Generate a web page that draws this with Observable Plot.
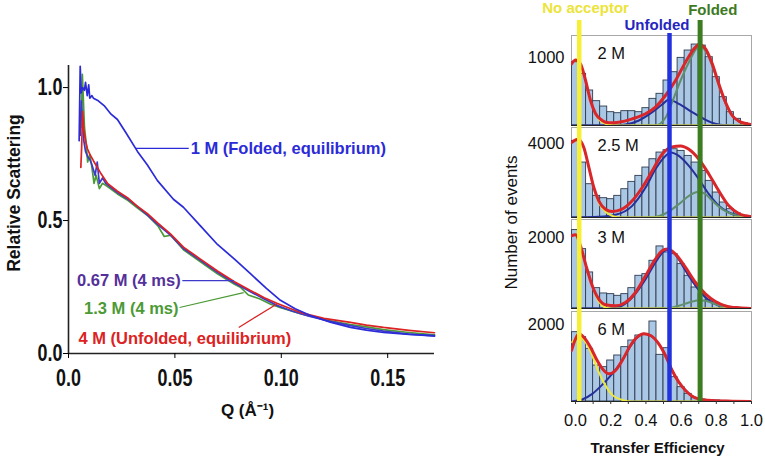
<!DOCTYPE html>
<html><head><meta charset="utf-8">
<script src="https://cdn.jsdelivr.net/npm/d3@7"></script>
<script src="https://cdn.jsdelivr.net/npm/@observablehq/plot@0.6"></script>
<style>
html,body{margin:0;padding:0;background:#fff;}
#chart{position:relative;width:765px;height:461px;overflow:hidden;}
#chart svg{position:absolute;left:0;top:0;}
</style></head><body><div id="chart"></div>
<script>
// ---------- Left chart data: [Q (1/Å), relative scattering] ----------
const curve1MFolded = [[0.0050,0.80],[0.0055,1.08],[0.0060,0.98],[0.0066,1.00],[0.0075,0.99],[0.0080,1.02],[0.0088,0.97],[0.0095,1.01],[0.0100,0.96],[0.0110,0.97],[0.0117,0.96],[0.0140,0.95],[0.0170,0.93],[0.0200,0.90],[0.0230,0.88],[0.0270,0.83],[0.0324,0.76],[0.0370,0.71],[0.0418,0.65],[0.0493,0.58],[0.0540,0.55],[0.0620,0.48],[0.0700,0.41],[0.0780,0.355],[0.0855,0.30],[0.0930,0.245],[0.0996,0.20],[0.1065,0.168],[0.1137,0.143],[0.1230,0.118],[0.1325,0.098],[0.1400,0.088],[0.1480,0.079],[0.1600,0.072],[0.1720,0.067]];
const curve067M4ms = [[0.0055,0.82],[0.0060,0.95],[0.0066,0.88],[0.0072,0.80],[0.0080,0.76],[0.0090,0.74],[0.0100,0.73],[0.0110,0.71],[0.0125,0.67],[0.0135,0.72],[0.0145,0.64],[0.0160,0.66],[0.0175,0.64],[0.0230,0.605],[0.0280,0.58],[0.0320,0.555],[0.0371,0.52],[0.0420,0.485],[0.0479,0.445],[0.0540,0.395],[0.0620,0.35],[0.0700,0.305],[0.0780,0.265],[0.0855,0.232],[0.0920,0.205],[0.0982,0.180],[0.1050,0.160],[0.1130,0.140],[0.1225,0.122],[0.1325,0.105],[0.1400,0.094],[0.1480,0.084],[0.1600,0.073],[0.1720,0.065]];
const curve13M4ms = [[0.0060,0.85],[0.0065,1.05],[0.0070,0.95],[0.0075,0.85],[0.0082,0.80],[0.0090,0.72],[0.0100,0.75],[0.0110,0.70],[0.0120,0.64],[0.0130,0.67],[0.0145,0.62],[0.0160,0.64],[0.0180,0.63],[0.0230,0.60],[0.0280,0.575],[0.0320,0.55],[0.0370,0.52],[0.0420,0.48],[0.0450,0.44],[0.0480,0.445],[0.0540,0.39],[0.0620,0.345],[0.0700,0.30],[0.0780,0.26],[0.0810,0.248],[0.0845,0.22],[0.0900,0.205],[0.0950,0.185],[0.0997,0.172],[0.1090,0.150],[0.1200,0.128],[0.1325,0.109],[0.1400,0.100],[0.1480,0.090],[0.1600,0.079],[0.1720,0.070]];
const curve4MUnfolded = [[0.0058,0.70],[0.0062,0.78],[0.0066,0.91],[0.0072,0.84],[0.0080,0.80],[0.0089,0.77],[0.0100,0.75],[0.0117,0.725],[0.0150,0.68],[0.0183,0.64],[0.0230,0.61],[0.0277,0.586],[0.0320,0.556],[0.0371,0.526],[0.0420,0.49],[0.0479,0.45],[0.0540,0.40],[0.0620,0.355],[0.0700,0.31],[0.0780,0.27],[0.0855,0.237],[0.0920,0.21],[0.0982,0.188],[0.1090,0.154],[0.1200,0.132],[0.1325,0.117],[0.1400,0.107],[0.1480,0.098],[0.1600,0.087],[0.1720,0.078]];
const qTicks = [0, 0.05, 0.10, 0.15];
const qTickLabels = ["0.0", "0.05", "0.10", "0.15"];
const sTicks = [0, 0.5, 1.0];
const sTickLabels = ["0.0", "0.5", "1.0"];
const curveLabels = ["1 M (Folded, equilibrium)", "0.67 M (4 ms)", "1.3 M (4 ms)", "4 M (Unfolded, equilibrium)"];
// label anchor points and leader lines, in data units
const labelQ = [0.0574, 0.0527, 0.0517, 0.0047];
const labelS = [0.771, 0.274, 0.169, 0.056];
const leaderQ1 = [0.0315, 0.0535, 0.0522, 0.0800];
const leaderS1 = [0.771, 0.274, 0.173, 0.098];
const leaderQ2 = [0.0565, 0.0776, 0.0823, 0.0983];
const leaderS2 = [0.771, 0.274, 0.229, 0.188];

// ---------- Right chart data: transfer-efficiency histograms ----------
const binCenters = [0,0.04,0.08,0.12,0.16,0.20,0.24,0.28,0.32,0.36,0.40,0.44,0.48,0.52,0.56,0.60,0.64,0.68,0.72,0.76,0.80,0.84,0.88,0.92,0.96];
const counts2M  = [931,760,515,358,279,196,181,211,211,196,255,392,466,662,784,995,1103,1191,1176,1005,711,417,196,98,34];
const counts25M = [4140,2970,1800,1170,1044,990,1170,1530,1926,2250,2700,3150,3510,3636,3690,3600,3330,2970,2520,1980,1350,810,450,216,90];
const counts3M  = [2228,1687,1024,578,427,408,360,408,578,929,976,1356,1763,1593,1545,1261,929,597,408,237,123,76,38,19,9];
const counts6M  = [1801,1671,1368,935,892,1065,1195,1412,1585,1715,1750,2078,1212,1385,632,372,199,87,52,35,26,17,9,9,0];
const panelNames = ["2 M", "2.5 M", "3 M", "6 M"];
const panelTickValues = [1000, 4000, 2000, 2000];
// fitted curves [E, events]
const fit2MTotal = [[-0.023,907],[0,965],[0.028,907],[0.057,662],[0.085,368],[0.114,172],[0.151,74],[0.189,39],[0.246,49],[0.322,98],[0.398,172],[0.454,270],[0.511,441],[0.568,662],[0.625,931],[0.682,1152],[0.701,1191],[0.739,1127],[0.777,907],[0.814,613],[0.852,343],[0.890,147],[0.928,64],[0.994,15]];
const fit2MUnfolded = [[-0.02,0],[0.10,0],[0.227,5],[0.284,15],[0.36,74],[0.436,196],[0.492,309],[0.530,377],[0.587,319],[0.663,196],[0.739,83],[0.795,25],[0.852,5],[0.95,0]];
const fit2MFolded = [[0.40,0],[0.454,0],[0.511,113],[0.549,343],[0.597,662],[0.644,931],[0.691,1142],[0.710,1161],[0.748,1054],[0.786,809],[0.824,515],[0.862,270],[0.909,98],[0.966,15]];
const fit2MDonor = [[-0.023,907],[0,965],[0.028,907],[0.057,662],[0.085,368],[0.114,172],[0.151,49],[0.208,5],[0.30,0],[0.99,0]];
const fit25MTotal = [[-0.023,4050],[0.015,4230],[0.047,3780],[0.076,2700],[0.104,1620],[0.132,900],[0.170,450],[0.208,324],[0.265,450],[0.322,900],[0.379,1620],[0.436,2520],[0.492,3420],[0.549,3816],[0.597,3870],[0.644,3690],[0.701,3150],[0.758,2340],[0.814,1440],[0.871,630],[0.928,216],[0.994,54]];
const fit25MUnfolded = [[-0.02,0],[0.132,36],[0.227,144],[0.322,630],[0.398,1620],[0.454,2610],[0.511,3330],[0.540,3510],[0.587,3330],[0.644,2790],[0.701,2070],[0.758,1260],[0.814,630],[0.871,270],[0.947,54],[0.99,0]];
const fit25MFolded = [[0.40,0],[0.454,36],[0.511,216],[0.587,720],[0.644,1170],[0.701,1386],[0.739,1260],[0.777,900],[0.833,450],[0.890,180],[0.966,36]];
const fit25MDonor = [[-0.023,4050],[0.015,4230],[0.047,3780],[0.076,2700],[0.104,1620],[0.132,810],[0.170,324],[0.208,90],[0.265,0],[0.99,0]];
const fit3MTotal = [[-0.023,2067],[0,2095],[0.028,1782],[0.057,1261],[0.095,645],[0.132,265],[0.170,104],[0.227,76],[0.284,171],[0.341,455],[0.398,929],[0.454,1403],[0.492,1640],[0.521,1687],[0.568,1545],[0.625,1166],[0.682,739],[0.739,408],[0.795,199],[0.852,76],[0.928,19],[0.994,0]];
const fit3MUnfolded = [[-0.02,0],[0.170,0],[0.246,47],[0.322,313],[0.398,834],[0.454,1308],[0.502,1621],[0.530,1668],[0.568,1526],[0.625,1071],[0.682,645],[0.739,313],[0.795,123],[0.871,9],[0.99,0]];
const fit3MFolded = [[0.45,0],[0.511,0],[0.587,76],[0.644,171],[0.701,237],[0.739,218],[0.795,123],[0.871,19],[0.95,0]];
const fit3MDonor = [[-0.023,2067],[0,2095],[0.028,1782],[0.057,1261],[0.095,645],[0.132,199],[0.170,28],[0.208,0],[0.99,0]];
const fit6MTotal = [[-0.023,1325],[0,1628],[0.019,1758],[0.047,1671],[0.085,1412],[0.123,1065],[0.161,805],[0.189,719],[0.227,805],[0.265,1065],[0.312,1455],[0.350,1671],[0.388,1758],[0.426,1715],[0.473,1498],[0.511,1195],[0.549,805],[0.587,502],[0.625,286],[0.663,139],[0.701,69],[0.777,26],[0.890,9],[0.994,0]];
const fit6MUnfolded = [[-0.019,0],[0.038,52],[0.095,199],[0.151,433],[0.208,719],[0.265,1065],[0.312,1438],[0.350,1663],[0.388,1758],[0.426,1715],[0.473,1498],[0.511,1195],[0.549,805],[0.587,502],[0.625,286],[0.663,139],[0.701,69],[0.777,17],[0.890,0]];
const fit6MFolded = [];
const fit6MDonor = [[-0.019,1541],[0.019,1697],[0.057,1541],[0.095,1195],[0.132,762],[0.170,416],[0.208,173],[0.265,43],[0.322,0],[0.99,0]];
const stateNames = ["No acceptor", "Unfolded", "Folded"];
const statePositions = [0.021, 0.534, 0.708];
const effTicks = [0, 0.2, 0.4, 0.6, 0.8, 1.0];
const effMinorTicks = [0, 0.1, 0.2, 0.3, 0.4, 0.5, 0.6, 0.7, 0.8, 0.9, 1.0];

// ---------- styling ----------
const SANS = "'Liberation Sans', Arial, Helvetica, sans-serif";
const cBlue1M = "#2b2bd8", cPurple = "#3d3acb", cPurpleText = "#55309a", cGreen = "#4c9a35", cRed = "#dc2222";
const root = document.getElementById("chart");
const baseStyle = {background: "transparent", overflow: "visible", fontFamily: SANS};

// ---------- Left chart ----------
const P = d => d[0], V = d => d[1];
const left = Plot.plot({
  width: 440, height: 461,
  marginLeft: 68, marginRight: 6, marginTop: 65, marginBottom: 108,
  style: baseStyle,
  x: {domain: [0, 0.172]},
  y: {domain: [0, 1.083]},
  marks: [
    Plot.line(curve13M4ms, {x: P, y: V, stroke: cGreen, strokeWidth: 1.7}),
    Plot.line(curve067M4ms, {x: P, y: V, stroke: cPurple, strokeWidth: 1.7}),
    Plot.line(curve4MUnfolded, {x: P, y: V, stroke: cRed, strokeWidth: 1.7}),
    Plot.line(curve1MFolded, {x: P, y: V, stroke: cBlue1M, strokeWidth: 1.7}),
    Plot.ruleX([0], {stroke: "#222", strokeWidth: 1.6}),
    Plot.ruleY([0], {stroke: "#222", strokeWidth: 1.6}),
    Plot.axisX({ticks: qTicks, tickFormat: d => qTickLabels[qTicks.indexOf(d)], tickSize: 5, tickPadding: 11, fontSize: 23, fontWeight: "bold", label: null, fill: "#111"}),
    Plot.axisY({ticks: sTicks, tickFormat: d => sTickLabels[sTicks.indexOf(d)], tickSize: 5, tickPadding: 1, fontSize: 23, fontWeight: "bold", label: null, fill: "#111"}),
    Plot.text(["Relative Scattering"], {frameAnchor: "left", textAnchor: "middle", rotate: -90, dx: -54.5, dy: -16.5, fontSize: 17.5, fontWeight: "bold", fill: "#111"}),
    Plot.text(["Q (Å⁻¹)"], {frameAnchor: "bottom", dx: -4, dy: 57, lineAnchor: "middle", fontSize: 17, fontWeight: "bold", fill: "#111"}),
    Plot.link([0, 1, 2, 3], {x1: i => leaderQ1[i], y1: i => leaderS1[i], x2: i => leaderQ2[i], y2: i => leaderS2[i], stroke: i => [cBlue1M, cPurple, cGreen, cRed][i], strokeWidth: 1.2}),
    Plot.text([0, 3], {x: i => labelQ[i], y: i => labelS[i], text: i => curveLabels[i], fill: i => [cBlue1M, cPurpleText, cGreen, cRed][i], textAnchor: "start", fontSize: 16.5, fontWeight: "bold"}),
    Plot.text([1, 2], {x: i => labelQ[i], y: i => labelS[i], text: i => curveLabels[i], fill: i => [cBlue1M, cPurpleText, cGreen, cRed][i], textAnchor: "end", fontSize: 16.5, fontWeight: "bold"})
  ]
});
root.appendChild(left);
// condense the big tick labels (reference uses a condensed bold face)
d3.select(left).selectAll('g[font-size="23"] text').each(function () {
  const w = this.getComputedTextLength();
  this.setAttribute("textLength", (w * 0.78).toFixed(1));
  this.setAttribute("lengthAdjust", "spacingAndGlyphs");
});

// ---------- Right panels ----------
const panelTops = [35, 127, 219, 311];
const panelBottoms = [125, 217, 308, 401];
const panelYMax = [1324, 4865, 2528, 2338];
const panelCounts = [counts2M, counts25M, counts3M, counts6M];
const panelFits = [
  [fit2MTotal, fit2MUnfolded, fit2MFolded, fit2MDonor],
  [fit25MTotal, fit25MUnfolded, fit25MFolded, fit25MDonor],
  [fit3MTotal, fit3MUnfolded, fit3MFolded, fit3MDonor],
  [fit6MTotal, fit6MUnfolded, fit6MFolded, fit6MDonor]
];
const xDom = [-0.023, 1.0];
const half = 0.02;
for (let k = 0; k < 4; k++) {
  const counts = panelCounts[k];
  const [tot, unf, fol, don] = panelFits[k];
  const bars = binCenters.map((c, i) => ({c, n: counts[i]}));
  const svg = Plot.plot({
    width: 765, height: 461,
    marginLeft: 571, marginRight: 14, marginTop: panelTops[k], marginBottom: 461 - panelBottoms[k],
    style: baseStyle,
    x: {domain: xDom, axis: null},
    y: {domain: [0, panelYMax[k]]},
    marks: [
      Plot.frame({stroke: "#a8a8a8", strokeWidth: 1}),
      Plot.rectY(bars, {x1: d => d.c - half, x2: d => d.c + half, y: "n", fill: "#aac8e6", stroke: "#2e3b4e", strokeWidth: 0.9, clip: true}),
      Plot.line(unf, {x: P, y: V, stroke: "#26309a", strokeWidth: 2, curve: "monotone-x", clip: true}),
      Plot.line(fol, {x: P, y: V, stroke: "#5f8f6c", strokeWidth: 2, curve: "monotone-x", clip: true}),
      Plot.line(don, {x: P, y: V, stroke: "#eee83a", strokeWidth: 2, curve: "monotone-x", clip: true}),
      Plot.line(tot, {x: P, y: V, stroke: "#d8262a", strokeWidth: 3, curve: "monotone-x", clip: true}),
      Plot.ruleY([0], {stroke: "#222", strokeWidth: 1.2}),
      Plot.axisY({ticks: [panelTickValues[k]], tickFormat: d => String(d), tickSize: 0, tickPadding: 7, fontSize: 16.5, label: null, fill: "#111"}),
      Plot.text([panelNames[k]], {frameAnchor: "top-left", dx: 26, dy: 18, lineAnchor: "middle", fontSize: 16.5, fill: "#111"})
    ]
  });
  root.appendChild(svg);
}

// ---------- Right overlay: state lines, labels, axis ----------
const stateColors = ["#f6ef33", "#2233dd", "#3c7d22"];
const labelColors = ["#ece43a", "#2525c0", "#3d7a1f"];
const labelCenters = [0.057, 0.463, 0.78];
const labelDy = [-12, 5, -10];
const overlay = Plot.plot({
  width: 765, height: 461,
  marginLeft: 571, marginRight: 14, marginTop: 20, marginBottom: 60,
  style: baseStyle,
  x: {domain: xDom},
  marks: [
    Plot.ruleX([0], {x: () => statePositions[0], stroke: stateColors[0], strokeWidth: 4.5}),
    Plot.ruleX([1], {x: () => statePositions[1], stroke: stateColors[1], strokeWidth: 4.5, insetTop: 13}),
    Plot.ruleX([2], {x: () => statePositions[2], stroke: stateColors[2], strokeWidth: 5}),
    Plot.axisX({ticks: effMinorTicks, tickSize: 3, tickFormat: () => "", label: null, stroke: "#333"}),
    Plot.axisX({ticks: effTicks, tickSize: 0, tickPadding: 13, tickFormat: d => d.toFixed(1), fontSize: 16.5, label: null, fill: "#111"}),
    ...[0, 1, 2].map(i => Plot.text([stateNames[i]], {x: () => labelCenters[i], frameAnchor: "top", dy: labelDy[i], lineAnchor: "middle", fontSize: 15, fontWeight: "bold", fill: labelColors[i]})),
    Plot.text(["Number of events"], {frameAnchor: "left", textAnchor: "middle", rotate: -90, dx: -60, dy: 11.5, fontSize: 17, fill: "#111"}),
    Plot.text(["Transfer Efficiency"], {frameAnchor: "bottom", dx: -4, dy: 47, lineAnchor: "middle", fontSize: 15, fontWeight: "bold", fill: "#111"})
  ]
});
root.appendChild(overlay);
</script></body></html>
